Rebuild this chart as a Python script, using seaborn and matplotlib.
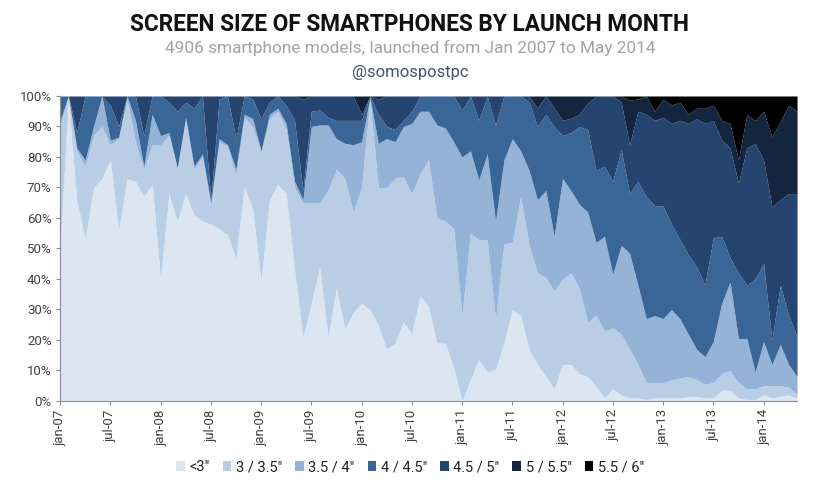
import matplotlib
matplotlib.use("Agg")
import matplotlib.pyplot as plt
from matplotlib.patches import Patch
import seaborn as sns
import pandas as pd
import numpy as np

# launch months, Jan 2007 .. May 2014
months = pd.date_range("2007-01-01", "2014-05-01", freq="MS")

size_labels = ['<3"', '3 / 3.5"', '3.5 / 4"', '4 / 4.5"', '4.5 / 5"', '5 / 5.5"', '5.5 / 6"']

# cumulative share (%) reached at the top of each size band
top_lt3 = [50, 99, 66, 53, 70, 73, 79, 56, 73, 72,
           67, 71, 40, 68, 59, 68, 61, 59, 58, 56.5,
           54.5, 46.7, 70.5, 63, 39.6, 66, 71, 68, 43, 21,
           32, 44, 21, 37, 23.6, 29, 32, 30, 25, 17,
           19, 26, 22, 34.5, 31, 19, 19, 11, 0, 7,
           13.5, 9.5, 10.5, 19, 30, 28, 17, 12, 8, 4,
           12, 12, 9, 8, 5, 1, 4, 2, 1, 1,
           0.5, 1, 1, 1, 1, 1.4, 1.5, 1, 1, 3.5,
           3.5, 1, 0.5, 0.5, 2, 1, 1.5, 2, 1]
top_3_35 = [90, 100, 82, 77, 87, 90, 84, 86, 99, 85,
            76, 84, 84, 87, 76, 92, 76, 80, 64, 85,
            83.5, 74, 93, 90, 81.5, 92.5, 95, 89, 70, 65,
            65, 65, 69, 76, 73, 62, 70, 99, 70, 70,
            73, 73.5, 68, 74.6, 79, 60, 59, 56.5, 28, 55,
            53, 52.8, 26.8, 51.6, 52, 67, 51, 42, 40.5, 36,
            40, 42, 37, 26, 28, 23, 24, 22, 17, 12,
            6, 6, 6, 7, 7.5, 8, 7, 5.5, 6, 9,
            10, 6, 4, 4, 5, 5, 5, 4.5, 2]
top_35_4 = [92, 100, 83, 79, 90, 100, 85.5, 86.5, 100, 92,
            77, 94, 87, 88, 76.5, 93, 77, 81, 65, 86,
            84, 76, 94, 92.6, 82, 94, 96, 91, 72, 66,
            90, 90.5, 90.5, 86, 84.5, 84, 85, 99.5, 84.5, 86,
            85, 90, 91, 95, 95, 90.5, 89.5, 85, 80, 82,
            72.5, 81, 59, 79, 86, 82, 75.7, 66, 69, 54,
            73, 69, 64.5, 62, 52, 54, 41.5, 51, 48.5, 38,
            27, 28, 27, 30, 27, 22, 17, 14.5, 19.5, 32,
            39, 20.5, 20.5, 9.5, 19.5, 12, 18.5, 12, 8]
top_4_45 = [100, 100, 88, 100, 100, 100, 97, 90, 100, 100,
            87, 100, 100, 98, 95, 98, 96, 100, 66, 99,
            100, 86, 100, 99, 92.6, 98, 100, 97, 92, 69,
            95, 95.4, 93, 92, 92, 92, 92, 100, 94, 90,
            89, 92, 95, 100, 100, 100, 100, 100, 95.4, 100,
            92, 100, 90.5, 100, 100, 100, 98, 90, 94, 90,
            87, 88, 90, 89, 75.5, 77, 72, 82.5, 68, 72,
            67, 64, 64, 58, 53, 48, 44, 38, 53.5, 54,
            47, 42, 38, 40, 45, 20, 38, 28, 21]
top_45_5 = [100] * 29 + [99, 100, 100, 100, 100, 100, 100, 94, 100, 99, 100] + \
           [100] * 17 + [96, 100, 96,
            92, 92.7, 94, 97.6, 100, 100, 100, 98, 84, 95,
            94, 92, 93, 91, 92, 91, 92.5, 91, 92, 85.6,
            83, 71.4, 83, 84.5, 79, 63.7, 66, 68, 68]
top_5_55 = [100] * 68 + [98.7, 99,
            100, 95, 99, 97, 98, 94, 96, 96, 97, 92,
            91, 79, 94, 92, 95, 86.7, 91.6, 97, 95]
top_55_6 = [100] * 89

colors = ["#dce6f2", "#b9cde5", "#95b3d7", "#3a6597", "#254470", "#13253f", "#000000"]

sns.set_theme(style="white")
plt.rcParams["font.family"] = ["Roboto", "DejaVu Sans"]

fig = plt.figure(figsize=(8.2, 4.87), dpi=100)
ax = fig.add_axes([0.0732, 0.1766, 0.8988, 0.6263])

x = np.arange(len(months))
tops = [top_lt3, top_3_35, top_35_4, top_4_45, top_45_5, top_5_55, top_55_6]
lower = np.zeros(len(months))
for top, col in zip(tops, colors):
    top = np.asarray(top, dtype=float)
    ax.fill_between(x, lower, top, color=col, linewidth=0)
    lower = top

ax.set_xlim(0, len(months) - 1)
ax.set_ylim(0, 100)
ax.set_yticks(range(0, 101, 10))
ax.set_yticklabels([f"{v}%" for v in range(0, 101, 10)], fontsize=9.5, color="#404040")
tick_pos = x[::6]
ax.set_xticks(tick_pos)
ax.set_xticklabels([months[i].strftime("%b-%y").lower() for i in tick_pos],
                   rotation=90, fontsize=9.5, color="#404040")
ax.tick_params(axis="both", length=3, width=0.8, color="#8c8c8c", pad=3, direction="out")
ax.tick_params(axis="x", bottom=True)
ax.tick_params(axis="y", left=True)
sns.despine(ax=ax, top=True, right=True)
for s in ["left", "bottom"]:
    ax.spines[s].set_color("#8c8c8c")
    ax.spines[s].set_linewidth(0.8)

fig.text(0.5, 0.949, "SCREEN SIZE OF SMARTPHONES BY LAUNCH MONTH", ha="center", va="center",
         fontsize=16.3, fontweight="bold", color="#111111")
fig.text(0.5, 0.901, "4906 smartphone models, launched from Jan 2007 to May 2014", ha="center",
         va="center", fontsize=12.4, color="#a3a3a3")
fig.text(0.5, 0.852, "@somospostpc", ha="center", va="center", fontsize=12, color="#44546a")

handles = [Patch(facecolor=c, edgecolor="none") for c in colors]
fig.legend(handles, size_labels, loc="center", bbox_to_anchor=(0.5, 0.041), ncol=7,
           frameon=False, fontsize=10.5, handlelength=0.6, handleheight=0.6,
           handletextpad=0.3, columnspacing=0.9, labelcolor="#222222")

fig.savefig("out.png", dpi=100, facecolor="white")
